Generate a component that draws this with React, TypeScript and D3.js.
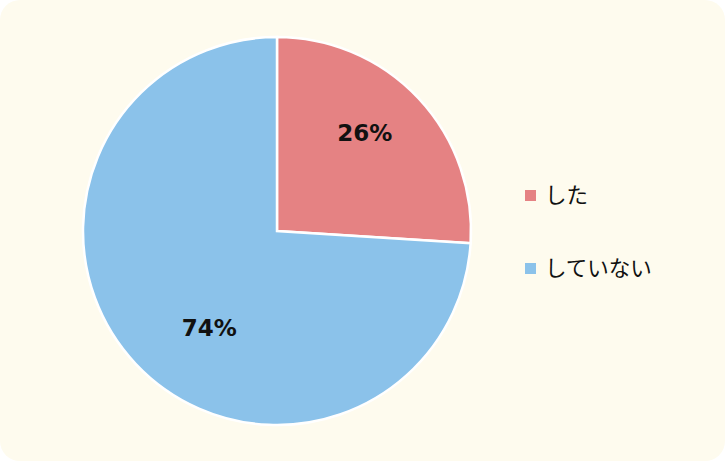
import React from "react";
import * as d3 from "d3";

const categories = ["した", "していない"];
const values = [26, 74];
const colors = ["#e58283", "#8bc2ea"];
const labelOffsets = [[-7, -9], [27, 8]];

export default function App() {
  const W = 725, H = 461;
  const cx = 277, cy = 231, R = 194;
  const pie = d3.pie<number>().sort(null).value((d) => d)(values);
  const arc = d3.arc<d3.PieArcDatum<number>>().innerRadius(0).outerRadius(R);
  const total = d3.sum(values);
  return (
    <svg width={W} height={H} style={{ position: "absolute", left: 0, top: 0 }}>
      <rect x={0} y={0} width={W} height={H} rx={20} ry={20} fill="#fefbee" />
      <g transform={`translate(${cx},${cy})`}>
        {pie.map((p, i) => (
          <path key={i} d={arc(p) || ""} fill={colors[i]} stroke="#ffffff" strokeWidth={2.5} />
        ))}
        {pie.map((p, i) => {
          const a = (p.startAngle + p.endAngle) / 2;
          const r = 130;
          const x = Math.sin(a) * r + labelOffsets[i][0];
          const y = -Math.cos(a) * r + labelOffsets[i][1];
          return (
            <text key={i} x={x} y={y} textAnchor="middle" dominantBaseline="central"
              fontFamily="DejaVu Sans, sans-serif" fontWeight="bold" fontSize={23} fill="#111111">
              {Math.round((values[i] / total) * 100)}%
            </text>
          );
        })}
      </g>
      {categories.map((c, i) => (
        <g key={c} transform={`translate(525,${190 + i * 73})`}>
          <rect x={0} y={0} width={11} height={11} fill={colors[i]} />
          <text x={20} y={3} dominantBaseline="central" fontFamily="Noto Sans CJK JP, sans-serif" fontSize={21.5} fill="#111111">{c}</text>
        </g>
      ))}
    </svg>
  );
}
